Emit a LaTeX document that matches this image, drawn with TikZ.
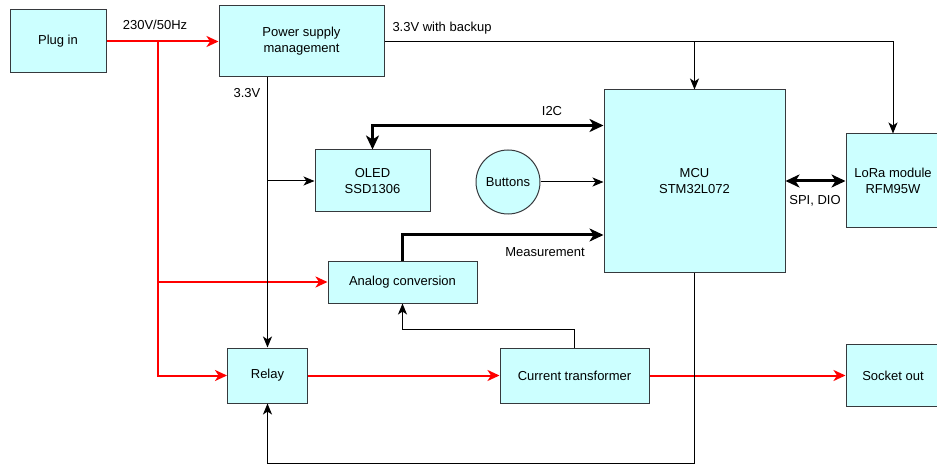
\documentclass[tikz,border=0pt]{standalone}
\usepackage{fontspec}
\setmainfont{Liberation Sans}
\usetikzlibrary{positioning, arrows.meta}
\definecolor{BoxFill}{RGB}{204,255,255}
\definecolor{BoxLine}{RGB}{54,57,61}
\definecolor{MainsRed}{RGB}{255,0,0}

\begin{document}
\begin{tikzpicture}[x=1pt,y=-1pt,
    block/.style={draw=BoxLine, fill=BoxFill, line width=1pt, align=center,
      inner sep=0pt, font=\fontsize{13}{16}\selectfont},
    lbl/.style={inner sep=0pt, font=\fontsize{13}{16}\selectfont},
    mains/.style={draw=MainsRed, line width=2pt,
      -{Stealth[length=12pt,width=11pt,inset=3.5pt]}},
    signal/.style={line width=1pt, -{Stealth[length=11pt,width=9pt,inset=3pt]}},
    bus/.style={line width=3pt}]
  \useasboundingbox (0,0) rectangle (937,465);

  % blocks
  \node[block, minimum width=96, minimum height=63] (plug) at (58,41.5) {Plug in};
  \node[block, minimum width=165, minimum height=71] (psu) at (301.5,41.5) {Power supply\\management};
  \node[block, minimum width=181, minimum height=182] (mcu) at (694.5,181) {MCU\\STM32L072};
  \node[block, minimum width=94, minimum height=94] (lora) at (893,181) {LoRa module\\RFM95W};
  \node[block, minimum width=115, minimum height=62] (oled) at (372.5,181) {OLED\\SSD1306};
  \node[block, circle, minimum size=64] (buttons) at (508,182) {Buttons};
  \node[block, minimum width=149, minimum height=42] (adc) at (402.5,282) {Analog conversion};
  \node[block, minimum width=80, minimum height=55] (relay) at (267.5,375.5) {Relay};
  \node[block, minimum width=149, minimum height=55] (ct) at (574.5,375.5) {Current transformer};
  \node[block, minimum width=94, minimum height=62] (socket) at (893,375.5) {Socket out};

  % mains path
  \coordinate (split) at (158,41.5);
  \draw[mains] (plug) -- (psu);
  \draw[mains] (split) |- (relay);
  \draw[mains] (split |- adc) -- (adc);
  \draw[mains] (relay) -- (ct);
  \draw[mains] (ct) -- (socket);
  \node[lbl] (mainslbl) at (155,25) {230V/50Hz};

  % supply lines
  \draw[signal] (psu.east) -| (lora.north);
  \draw[signal] (psu.east -| mcu.north) -- (mcu.north);
  \node[lbl] (backuplbl) at (442,28) {3.3V with backup};
  \draw[signal] (psu.south -| relay.north) -- (relay.north);
  \draw[signal] (relay.north |- oled) -- (oled);
  \node[lbl] (supplylbl) at (247,93) {3.3V};

  % data lines
  \draw[bus, {Stealth[length=14pt,width=13pt,inset=4pt]}-{Stealth[length=14pt,width=13pt,inset=4pt]}]
    (oled.north) |- ([yshift=55.5pt]mcu.west);
  \node[lbl] (i2clbl) at (552,111) {I2C};
  \draw[signal] (buttons) -- (buttons -| mcu.west);
  \draw[bus, -{Stealth[length=14pt,width=13pt,inset=4pt]}]
    (adc.north) |- ([yshift=-54pt]mcu.west);
  \node[lbl] (measlbl) at (545,252) {Measurement};
  \draw[bus, {Stealth[length=14pt,width=13pt,inset=4pt]}-{Stealth[length=14pt,width=13pt,inset=4pt]}]
    (mcu) -- (lora);
  \node[lbl] (spilbl) at (815,201) {SPI, DIO};

  % feedback lines
  \draw[signal] (ct.north) -- ++(0,-18) -| (adc.south);
  \draw[signal] (mcu.south) -- ++(0,191) -| (relay.south);
\end{tikzpicture}
\end{document}
